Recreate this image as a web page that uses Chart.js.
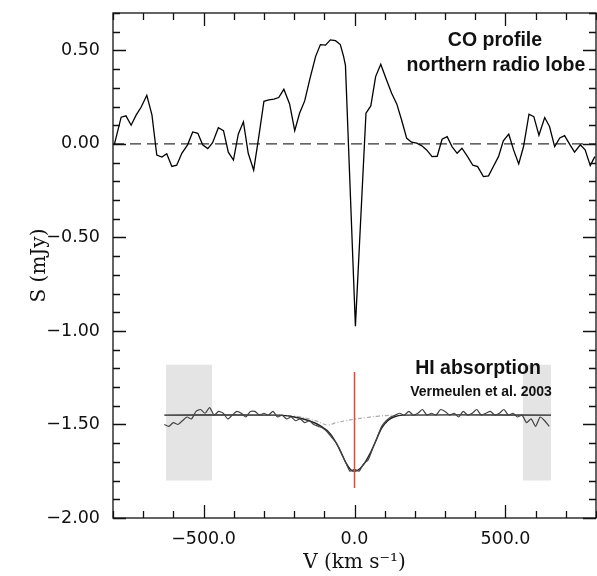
<!DOCTYPE html>
<html>
<head>
<meta charset="utf-8">
<script src="https://cdn.jsdelivr.net/npm/chart.js@4.4.0/dist/chart.umd.min.js"></script>
<style>
  html, body { margin: 0; padding: 0; background: #fff; }
  canvas { display: block; }
</style>
</head>
<body>
<canvas id="coChart" width="597" height="576"></canvas>
<script>
// CO spectrum, northern radio lobe (km/s, mJy)
const coVel = [-795,-773,-757,-740,-723,-707,-688,-671,-655,-638,
  -622,-605,-589,-572,-553,-536,-519,-503,-486,-470,
  -451,-434,-418,-401,-385,-368,-352,-334,-317,-300,
  -284,-267,-251,-234,-215,-198,-182,-165,-148,-129,
  -113,-96,-80,-63,-47,-36,-30,3,38,54,
  70,87,104,123,140,156,173,189,206,222,
  239,257,274,290,307,323,340,356,373,392,
  408,427,444,460,477,493,511,527,544,560,
  578,594,611,630,646,663,680,696,713,729,
  748,764,781,796];
const coFlux = [0.00,0.143,0.15,0.10,0.155,0.196,0.26,0.155,-0.06,-0.07,
  -0.052,-0.12,-0.114,-0.05,-0.005,0.064,0.057,-0.005,-0.025,0.007,
  0.087,0.071,-0.044,-0.086,0.052,0.118,-0.05,-0.14,0.039,0.228,
  0.235,0.24,0.248,0.292,0.214,0.071,0.164,0.23,0.346,0.467,
  0.531,0.528,0.556,0.552,0.531,0.467,0.42,-0.975,0.164,0.203,
  0.36,0.426,0.351,0.271,0.214,0.128,0.03,0.009,0.004,-0.009,
  -0.032,-0.068,-0.066,0.025,0.039,-0.014,-0.05,-0.023,-0.064,-0.114,
  -0.121,-0.175,-0.171,-0.121,-0.068,0.016,0.052,-0.032,-0.107,-0.014,
  0.159,0.146,0.047,0.141,0.093,-0.014,0.032,0.044,-0.002,-0.044,
  -0.005,-0.032,-0.116,-0.068];

// HI absorption inset (Vermeulen et al. 2003), placed in S units
const hiVel = [-630,-615,-600,-585,-570,-555,-540,-525,-510,-495,
  -480,-465,-450,-435,-420,-405,-390,-375,-360,-345,
  -330,-315,-300,-285,-270,-255,-240,-225,-210,-195,
  -180,-165,-150,-135,-120,-105,-90,-75,-60,-45,
  -30,-15,0,15,30,45,60,75,90,105,
  120,135,150,165,180,195,210,225,240,255,
  270,285,300,315,330,345,360,375,390,405,
  420,435,450,465,480,495,510,525,540,555,
  570,585,600,615,630,645];
const hiFlux = [-1.50,-1.51,-1.49,-1.50,-1.48,-1.46,-1.47,-1.43,-1.42,-1.44,
  -1.41,-1.45,-1.43,-1.44,-1.47,-1.45,-1.43,-1.44,-1.46,-1.43,
  -1.43,-1.45,-1.44,-1.45,-1.43,-1.46,-1.45,-1.47,-1.46,-1.48,
  -1.47,-1.49,-1.48,-1.50,-1.51,-1.52,-1.54,-1.57,-1.60,-1.65,
  -1.70,-1.75,-1.74,-1.75,-1.71,-1.69,-1.63,-1.57,-1.51,-1.48,
  -1.46,-1.45,-1.44,-1.45,-1.43,-1.45,-1.44,-1.42,-1.45,-1.44,
  -1.45,-1.42,-1.43,-1.45,-1.44,-1.46,-1.43,-1.45,-1.44,-1.42,
  -1.45,-1.44,-1.43,-1.45,-1.44,-1.42,-1.45,-1.44,-1.46,-1.45,
  -1.49,-1.47,-1.51,-1.46,-1.48,-1.51];
const hiFitVel = [-630,-250,-200,-150,-110,-80,-50,-30,-10,10,30,50,70,90,110,130,160,651];
const hiFit = [-1.45,-1.45,-1.46,-1.48,-1.51,-1.55,-1.63,-1.70,-1.745,-1.745,-1.715,-1.66,-1.59,-1.52,-1.48,-1.46,-1.45,-1.45];
const hiCompVel = [-250,-200,-150,-120,-90,-60,-30,0,40,80,130];
const hiComp = [-1.45,-1.455,-1.47,-1.485,-1.503,-1.49,-1.48,-1.472,-1.463,-1.455,-1.45];
const hiBoxLeft = [-625, -472];
const hiBoxRight = [557, 651];
const hiBoxY = [-1.18, -1.80];
const redLineY = [-1.22, -1.84];

// axes
const xTickVals = [-500, 0, 500];
const xTickLabels = ['\u2212500.0', '0.0', '500.0'];
const yTickVals = [-2.0, -1.5, -1.0, -0.5, 0.0, 0.5];
const yTickLabels = ['\u22122.00', '\u22121.50', '\u22121.00', '\u22120.50', '0.00', '0.50'];

const pts = (xs, ys) => xs.map((x, i) => ({ x: x, y: ys[i] }));
const box = (xr) => [{ x: xr[0], y: hiBoxY[0] }, { x: xr[1], y: hiBoxY[0] }];

const frameTicks = {
  id: 'frameTicks',
  afterDatasetsDraw(chart) {
    const { ctx, chartArea: a, scales: { x, y } } = chart;
    ctx.save();
    ctx.strokeStyle = '#111';
    ctx.lineWidth = 1.3;
    ctx.strokeRect(a.left, a.top, a.right - a.left, a.bottom - a.top);
    ctx.beginPath();
    for (let v = -800; v <= 800; v += 100) {
      const px = Math.round(x.getPixelForValue(v)) + 0.5;
      const len = v % 500 === 0 ? 13 : 7;
      ctx.moveTo(px, a.bottom); ctx.lineTo(px, a.bottom - len);
      ctx.moveTo(px, a.top); ctx.lineTo(px, a.top + len);
    }
    for (let k = -20; k <= 7; k++) {
      const py = Math.round(y.getPixelForValue(k / 10)) + 0.5;
      const len = k % 5 === 0 ? 13 : 7;
      ctx.moveTo(a.left, py); ctx.lineTo(a.left + len, py);
      ctx.moveTo(a.right, py); ctx.lineTo(a.right - len, py);
    }
    ctx.stroke();

    ctx.fillStyle = '#111';
    ctx.textAlign = 'center';
    ctx.textBaseline = 'middle';
    ctx.font = 'bold 19.5px "Liberation Sans", Arial, sans-serif';
    ctx.fillText('CO profile', 495, 41);
    ctx.fillText('northern radio lobe', 496, 66);
    ctx.fillText('HI absorption', 478, 369);
    ctx.font = 'bold 14px "Liberation Sans", Arial, sans-serif';
    ctx.fillText('Vermeulen et al. 2003', 481, 392);
    ctx.restore();
  }
};

const noPad = (s) => { s.paddingTop = 0; s.paddingBottom = 0; s.paddingLeft = 0; s.paddingRight = 0; };

// first dataset is drawn on top
new Chart(document.getElementById('coChart'), {
  type: 'line',
  data: {
    datasets: [
      { data: pts(coVel, coFlux), borderColor: '#000', borderWidth: 1.3 },
      { data: [{ x: 0, y: redLineY[0] }, { x: 0, y: redLineY[1] }], borderColor: '#e24a3b', borderWidth: 1.5 },
      { data: pts(hiVel, hiFlux), borderColor: '#444', borderWidth: 1.2, tension: 0.2 },
      { data: pts(hiFitVel, hiFit), borderColor: '#222', borderWidth: 1.4, tension: 0.3 },
      { data: pts(hiCompVel, hiComp), borderColor: '#aaa', borderWidth: 1.2, borderDash: [4, 2, 1, 2], tension: 0.4 },
      { data: [{ x: -800, y: 0 }, { x: 800, y: 0 }], borderColor: '#333', borderWidth: 1.3, borderDash: [11, 6] },
      { data: box(hiBoxLeft), fill: { value: hiBoxY[1] }, backgroundColor: '#e4e4e4', borderWidth: 0 },
      { data: box(hiBoxRight), fill: { value: hiBoxY[1] }, backgroundColor: '#e4e4e4', borderWidth: 0 }
    ]
  },
  options: {
    responsive: false,
    animation: false,
    devicePixelRatio: 1,
    layout: { padding: { top: 13, right: 1, left: 0, bottom: 0 } },
    elements: { point: { radius: 0 } },
    plugins: { legend: { display: false }, tooltip: { enabled: false } },
    scales: {
      x: {
        type: 'linear',
        min: -800,
        max: 800,
        afterBuildTicks: (s) => { s.ticks = xTickVals.map(v => ({ value: v })); },
        afterFit: (s) => { s.height = 58; noPad(s); },
        grid: { display: false, drawTicks: false },
        border: { display: false },
        ticks: {
          padding: 11,
          color: '#111',
          font: { family: '"DejaVu Sans", sans-serif', size: 17.5 },
          callback: (v, i) => xTickLabels[i]
        },
        title: {
          display: true,
          text: 'V (km s\u207B\u00B9)',
          color: '#111',
          font: { family: '"DejaVu Serif", serif', size: 20 },
          padding: { top: 0, bottom: 1 }
        }
      },
      y: {
        type: 'linear',
        min: -2.0,
        max: 0.7,
        afterBuildTicks: (s) => { s.ticks = yTickVals.map(v => ({ value: v })); },
        afterFit: (s) => { s.width = 113; noPad(s); },
        grid: { display: false, drawTicks: false },
        border: { display: false },
        ticks: {
          padding: 13,
          color: '#111',
          font: { family: '"DejaVu Sans", sans-serif', size: 17.5 },
          callback: (v, i) => yTickLabels[i]
        },
        title: {
          display: true,
          text: 'S (mJy)',
          color: '#111',
          font: { family: '"DejaVu Serif", serif', size: 20 },
          padding: { top: 28, bottom: 0 }
        }
      }
    }
  },
  plugins: [frameTicks]
});
</script>
</body>
</html>
